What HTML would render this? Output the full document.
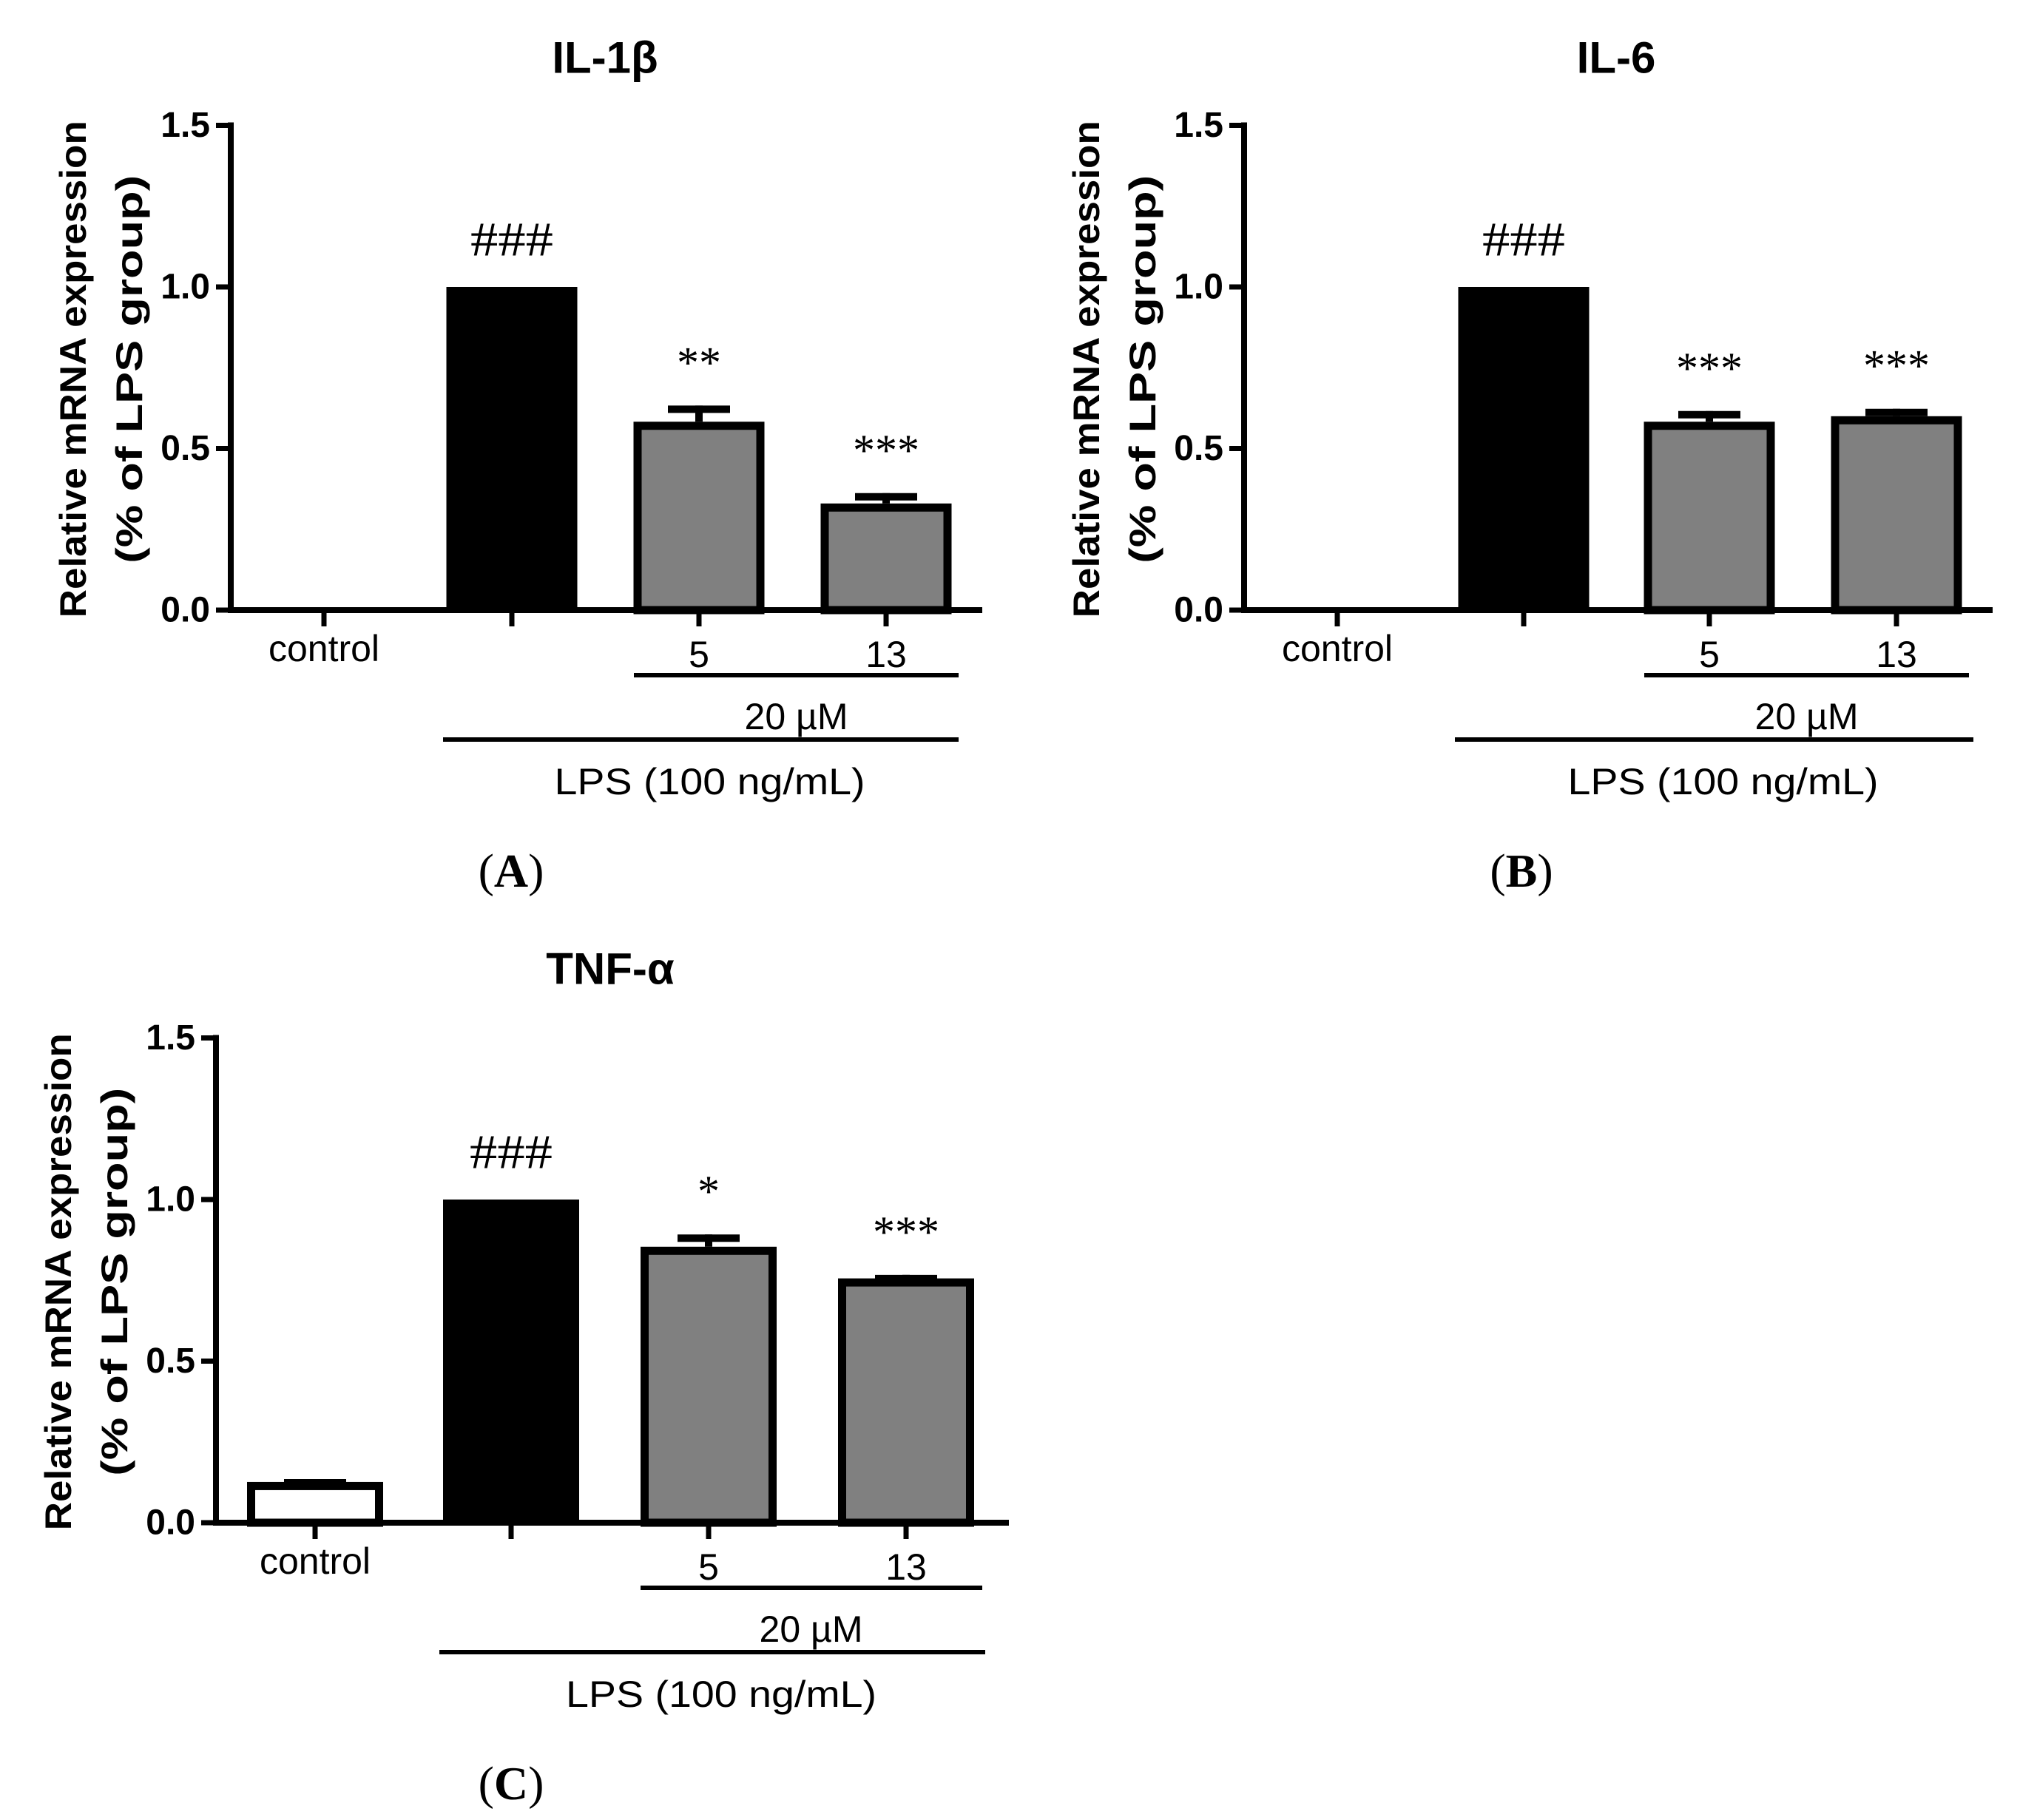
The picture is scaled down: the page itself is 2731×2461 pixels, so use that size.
<!DOCTYPE html>
<html><head><meta charset="utf-8"><style>html,body{margin:0;padding:0;background:#fff}svg{display:block}</style></head>
<body>
<svg id="fig" width="2731" height="2461" viewBox="0 0 2731 2461" xmlns="http://www.w3.org/2000/svg"></svg>
<script>
const categories = ["control", "LPS", "5", "13"];
const valuesA = [0.005, 1.0, 0.583, 0.33];
const errorsA = [0, 0, 0.05, 0.032];
const valuesB = [0.005, 1.0, 0.583, 0.60];
const errorsB = [0, 0, 0.033, 0.023];
const valuesC = [0.126, 1.0, 0.854, 0.756];
const errorsC = [0.009, 0, 0.038, 0.011];
const starsA = ["", "###", "**", "***"];
const starsB = ["", "###", "***", "***"];
const starsC = ["", "###", "*", "***"];
const yTicks = [0, 0.5, 1.0, 1.5];
const yTickLabels = ["0.0", "0.5", "1.0", "1.5"];
const xLabels = ["control", "", "5", "13"];

const svg = document.getElementById('fig');
const NS = 'http://www.w3.org/2000/svg';
function mk(tag, attrs, name, text) {
  const e = document.createElementNS(NS, tag);
  for (const k in attrs) e.setAttribute(k, attrs[k]);
  
  
  if (text !== undefined) e.textContent = text;
  svg.appendChild(e);
  return e;
}
const SANS = '"Liberation Sans", Arial, sans-serif';
const SERIF = '"Liberation Serif", "Times New Roman", serif';
const colors = ["#ffffff", "#000000", "#808080", "#808080"];

function panel(p) {
  const yS = v => p.y0 - v * p.unit;
  p.vals.forEach((v, i) => {
    const cx = p.ticks[i], w = p.bw, sw = 11;
    const top = yS(v);
    if (p.errs[i] > 0) {
      const et = yS(v + p.errs[i]);
      mk('line', {x1: cx, x2: cx, y1: top, y2: et, stroke: '#000', 'stroke-width': 10}, 'error-bar-' + p.id + '-' + i);
      mk('line', {x1: cx - 42, x2: cx + 42, y1: et + 5, y2: et + 5, stroke: '#000', 'stroke-width': 10}, 'error-cap-' + p.id + '-' + i);
    }
    if (i === 1) {
      mk('rect', {x: cx - w / 2, y: top, width: w, height: p.y0 - top, fill: '#000'}, 'bar-' + p.id + '-lps');
    } else {
      const h = Math.max(p.y0 - top - sw / 2, 0);
      mk('rect', {x: cx - w / 2 + sw / 2, y: top + sw / 2, width: w - sw, height: h, fill: colors[i], stroke: '#000', 'stroke-width': sw}, 'bar-' + p.id + '-' + categories[i]);
    }
    if (p.stars[i]) {
      const isHash = p.stars[i][0] === '#';
      const attrs = {x: cx, y: yS(v + p.errs[i]) - (isHash ? 64 : 58), 'text-anchor': 'middle', 'dominant-baseline': 'central', 'font-family': SERIF, 'font-size': isHash ? 66 : 60};
      if (isHash) { attrs.textLength = 112; attrs.lengthAdjust = 'spacingAndGlyphs'; }
      mk('text', attrs, 'significance-' + p.id + '-' + i, p.stars[i]);
    }
  });
  mk('line', {x1: p.ax, x2: p.ax, y1: yS(1.5) - 4, y2: p.y0 + 4, stroke: '#000', 'stroke-width': 8}, 'y-axis-' + p.id);
  mk('line', {x1: p.ax - 4, x2: p.axEnd, y1: p.y0, y2: p.y0, stroke: '#000', 'stroke-width': 8}, 'x-axis-' + p.id);
  yTicks.forEach((t, i) => {
    mk('line', {x1: p.ax - 20, x2: p.ax, y1: yS(t), y2: yS(t), stroke: '#000', 'stroke-width': 7}, 'y-tick-' + p.id);
    mk('text', {x: p.ax - 28, y: yS(t), 'text-anchor': 'end', 'dominant-baseline': 'central', 'font-family': SANS, 'font-weight': 'bold', 'font-size': 48}, 'y-tick-label-' + p.id, yTickLabels[i]);
  });
  p.ticks.forEach((tx, i) => {
    mk('line', {x1: tx, x2: tx, y1: p.y0, y2: p.y0 + 22, stroke: '#000', 'stroke-width': 7}, 'x-tick-' + p.id);
    if (xLabels[i]) {
      mk('text', {x: tx, y: p.y0 + (i === 0 ? 52 : 60), 'text-anchor': 'middle', 'dominant-baseline': 'central', 'font-family': SANS, 'font-size': 50}, 'x-label-' + p.id + '-' + xLabels[i], xLabels[i]);
    }
  });
  mk('line', {x1: p.l1[0], x2: p.l1[1], y1: p.y0 + 88, y2: p.y0 + 88, stroke: '#000', 'stroke-width': 6}, 'conc-line-' + p.id);
  mk('text', {x: (p.ticks[2] + p.ticks[3]) / 2 + 5, y: p.y0 + 144, 'text-anchor': 'middle', 'dominant-baseline': 'central', 'font-family': SANS, 'font-size': 50}, 'conc-label-' + p.id, '20 \u00b5M');
  mk('line', {x1: p.l2[0], x2: p.l2[1], y1: p.y0 + 175, y2: p.y0 + 175, stroke: '#000', 'stroke-width': 6}, 'lps-line-' + p.id);
  mk('text', {x: (p.l2[0] + p.l2[1]) / 2 + 12, y: p.y0 + 232, 'text-anchor': 'middle', 'dominant-baseline': 'central', 'font-family': SANS, 'font-size': 50, textLength: 420, lengthAdjust: 'spacingAndGlyphs'}, 'lps-label-' + p.id, 'LPS (100 ng/mL)');
  mk('text', {x: p.titleX, y: p.titleY, 'text-anchor': 'middle', 'dominant-baseline': 'central', 'font-family': SANS, 'font-weight': 'bold', 'font-size': 60}, 'chart-title-' + p.id, p.title);
  const cy = yS(0.75) + 2;
  mk('text', {x: 0, y: 0, 'text-anchor': 'middle', 'dominant-baseline': 'central', 'font-family': SANS, 'font-weight': 'bold', 'font-size': 50, textLength: 672, lengthAdjust: 'spacingAndGlyphs', transform: `translate(${p.ax - 213},${cy}) rotate(-90)`}, 'y-axis-title-' + p.id, 'Relative mRNA expression');
  mk('text', {x: 0, y: 0, 'text-anchor': 'middle', 'dominant-baseline': 'central', 'font-family': SANS, 'font-weight': 'bold', 'font-size': 50, textLength: 525, lengthAdjust: 'spacingAndGlyphs', transform: `translate(${p.ax - 137},${cy}) rotate(-90)`}, 'y-axis-subtitle-' + p.id, '(% of LPS group)');
  const pl = mk('text', {x: p.letterX, y: p.y0 + 352, 'text-anchor': 'middle', 'dominant-baseline': 'central', 'font-family': SERIF, 'font-size': 64}, 'panel-label-' + p.id);
  pl.innerHTML = '(<tspan font-weight="bold">' + p.letter + '</tspan>)';
}

panel({id: 'a', vals: valuesA, errs: errorsA, stars: starsA, ax: 312, axEnd: 1328, y0: 825, unit: 437,
  ticks: [438, 692, 945, 1198], bw: 177, l1: [857, 1296], l2: [599, 1296], title: 'IL-1\u03b2', titleX: 818, titleY: 78, letter: 'A', letterX: 691});
panel({id: 'b', vals: valuesB, errs: errorsB, stars: starsB, ax: 1682, axEnd: 2694, y0: 825, unit: 437,
  ticks: [1808, 2060, 2311, 2564], bw: 177, l1: [2223, 2662], l2: [1967, 2668], title: 'IL-6', titleX: 2185, titleY: 78, letter: 'B', letterX: 2057});
panel({id: 'c', vals: valuesC, errs: errorsC, stars: starsC, ax: 292, axEnd: 1364, y0: 2059, unit: 437,
  ticks: [426, 691, 958, 1225], bw: 184, l1: [866, 1328], l2: [594, 1332], title: 'TNF-\u03b1', titleX: 825, titleY: 1310, letter: 'C', letterX: 691});
</script>
</body></html>
